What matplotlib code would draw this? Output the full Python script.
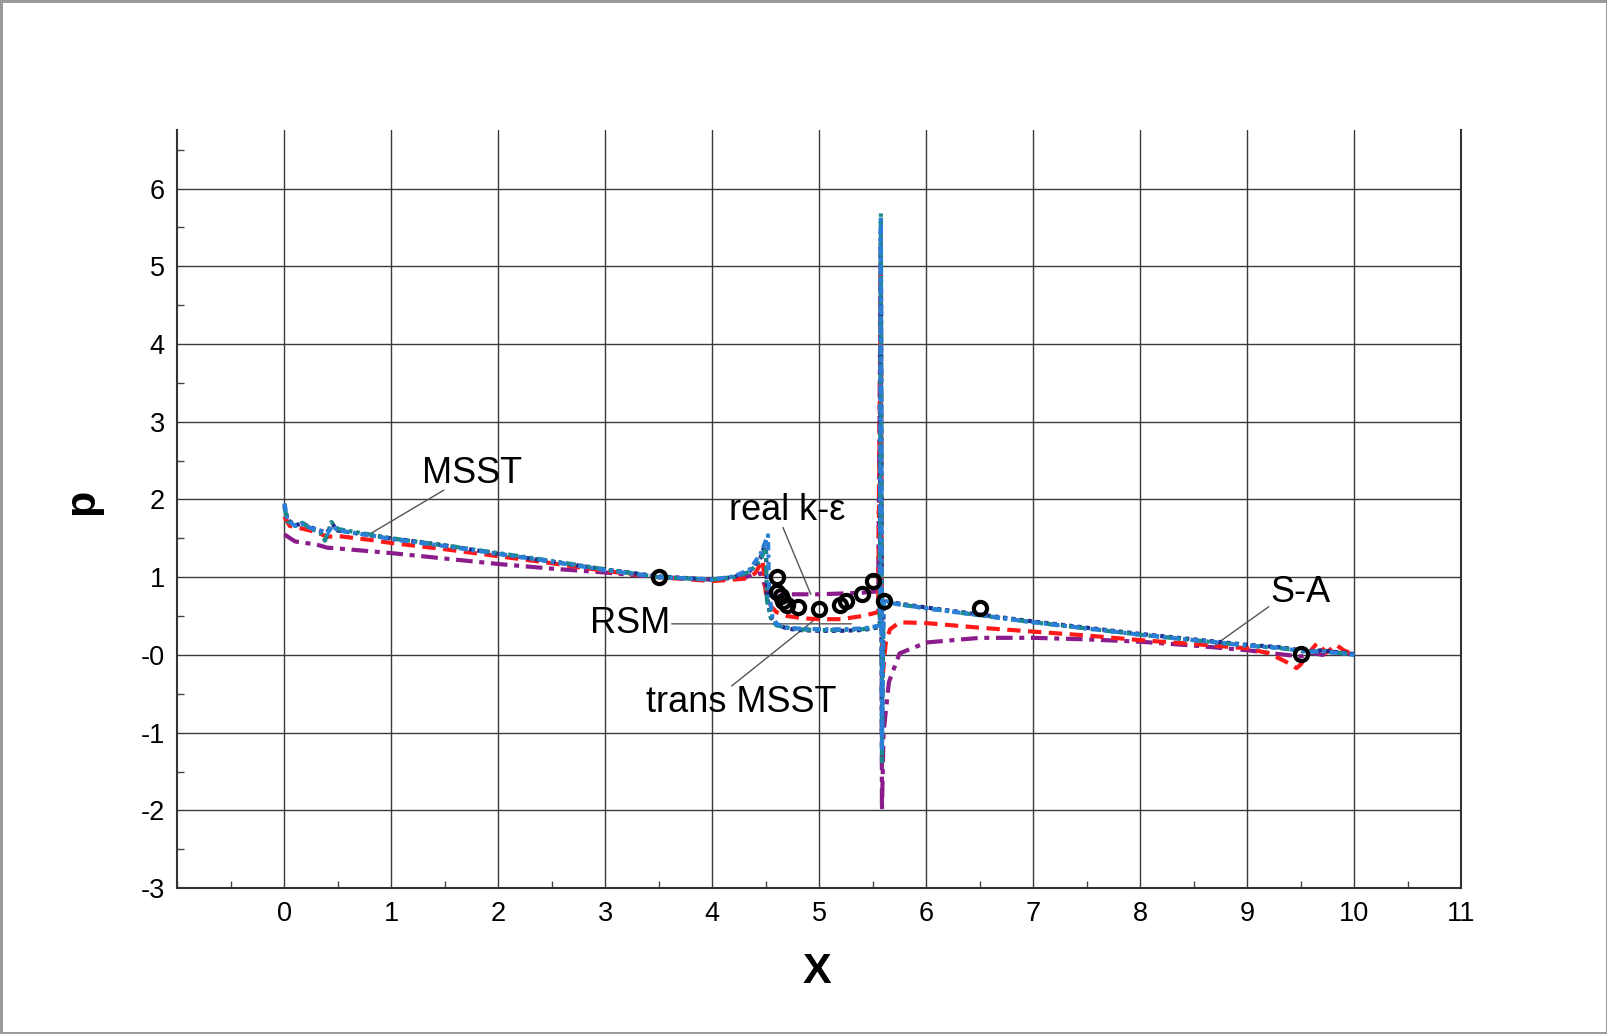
import matplotlib
matplotlib.use("Agg")
import matplotlib.pyplot as plt
from matplotlib.ticker import MultipleLocator, FixedLocator, FixedFormatter

plt.rcParams['font.family'] = ['Liberation Sans', 'DejaVu Sans']

# ---------------- data ----------------
sa_x = [0.0, 0.03, 0.1, 0.17, 0.25, 0.33, 0.4, 0.45, 0.5, 0.8, 1.0, 1.5, 2.0, 2.5, 3.0, 3.5, 4.0,
        4.2, 4.35, 4.45, 4.5, 4.51, 4.55, 4.6, 4.7, 4.8, 5.0, 5.2, 5.4, 5.5, 5.565, 5.575, 5.58,
        5.585, 5.6, 5.65, 5.7, 6.0, 6.5, 7.0, 7.5, 8.0, 8.5, 9.0, 9.3, 9.5, 9.6, 9.7, 9.8, 9.9, 10.0]
sa_y = [1.93, 1.74, 1.67, 1.69, 1.64, 1.6, 1.58, 1.68, 1.6, 1.54, 1.5, 1.41, 1.3, 1.2, 1.1, 1.01, 0.97,
        1.0, 1.08, 1.25, 1.45, 0.75, 0.48, 0.39, 0.34, 0.32, 0.31, 0.31, 0.32, 0.34, 0.36, 5.45, 2.0,
        -1.0, 0.72, 0.69, 0.67, 0.61, 0.52, 0.43, 0.35, 0.27, 0.2, 0.13, 0.1, 0.06, 0.05, 0.06, 0.04, 0.03, 0.01]

msst_x = [0.0, 0.03, 0.1, 0.17, 0.25, 0.33, 0.38, 0.44, 0.5, 0.8, 1.0, 1.5, 2.0, 2.5, 3.0, 3.5, 4.0,
          4.2, 4.35, 4.45, 4.5, 4.51, 4.55, 4.6, 4.7, 4.8, 5.0, 5.2, 5.4, 5.5, 5.565, 5.575, 5.58,
          5.585, 5.6, 5.65, 5.7, 6.0, 6.5, 7.0, 7.5, 8.0, 8.5, 9.0, 9.3, 9.5, 9.6, 9.7, 9.8, 9.9, 10.0]
msst_y = [1.9, 1.72, 1.66, 1.7, 1.62, 1.58, 1.47, 1.71, 1.62, 1.55, 1.5, 1.41, 1.31, 1.21, 1.1, 1.0, 0.97,
          1.0, 1.07, 1.22, 1.38, 0.7, 0.45, 0.38, 0.35, 0.33, 0.32, 0.32, 0.33, 0.35, 0.37, 5.68, 2.5,
          -1.4, 0.7, 0.68, 0.66, 0.6, 0.51, 0.42, 0.34, 0.26, 0.19, 0.12, 0.09, 0.05, 0.04, 0.05, 0.03, 0.02, 0.0]

tmsst_x = [0.0, 0.03, 0.1, 0.17, 0.25, 0.33, 0.4, 0.45, 0.5, 0.8, 1.0, 1.5, 2.0, 2.5, 3.0, 3.5, 4.0,
           4.2, 4.35, 4.45, 4.52, 4.53, 4.56, 4.6, 4.7, 4.8, 5.0, 5.2, 5.4, 5.5, 5.565, 5.575, 5.58,
           5.585, 5.6, 5.65, 5.7, 6.0, 6.5, 7.0, 7.5, 8.0, 8.5, 9.0, 9.3, 9.5, 9.6, 9.7, 9.8, 9.9, 10.0]
tmsst_y = [1.95, 1.73, 1.66, 1.68, 1.63, 1.6, 1.56, 1.66, 1.6, 1.54, 1.49, 1.4, 1.3, 1.2, 1.09, 1.0, 0.97,
           1.01, 1.1, 1.3, 1.54, 0.8, 0.5, 0.4, 0.35, 0.34, 0.33, 0.33, 0.34, 0.36, 0.38, 5.6, 2.2,
           -1.2, 0.71, 0.68, 0.66, 0.6, 0.51, 0.42, 0.34, 0.26, 0.19, 0.12, 0.09, 0.05, 0.04, 0.05, 0.03, 0.02, 0.0]

rsm_x = [0.0, 0.05, 0.15, 0.3, 0.4, 0.5, 0.8, 1.0, 1.5, 2.0, 2.5, 3.0, 3.5, 4.0, 4.3, 4.4, 4.47,
         4.5, 4.55, 4.6, 4.7, 4.85, 5.0, 5.2, 5.4, 5.55, 5.575, 5.58, 5.59, 5.62, 5.66, 5.75, 6.0, 6.5,
         7.0, 7.5, 8.0, 8.5, 9.0, 9.2, 9.35, 9.46, 9.5, 9.56, 9.65, 9.74, 9.83, 9.9, 10.0]
rsm_y = [1.78, 1.66, 1.63, 1.58, 1.52, 1.53, 1.48, 1.44, 1.36, 1.27, 1.18, 1.08, 1.0, 0.95, 0.98, 1.05, 1.22,
         0.8, 0.62, 0.55, 0.5, 0.47, 0.46, 0.46, 0.5, 0.55, 5.0, 1.5, -0.3, 0.15, 0.33, 0.42, 0.41, 0.35,
         0.3, 0.25, 0.19, 0.14, 0.085, 0.02, -0.08, -0.17, -0.12, 0.0, 0.15, 0.03, 0.13, 0.06, 0.0]

rke_x = [0.0, 0.1, 0.3, 0.4, 0.5, 1.0, 1.5, 2.0, 2.5, 3.0, 3.5, 4.0, 4.3, 4.45, 4.5, 4.55, 4.7,
         5.0, 5.2, 5.4, 5.55, 5.575, 5.58, 5.585, 5.6, 5.65, 5.75, 6.0, 6.5, 7.0, 7.5, 8.0,
         8.5, 9.0, 9.3, 9.5, 9.6, 9.7, 9.8, 10.0]
rke_y = [1.55, 1.46, 1.42, 1.38, 1.37, 1.31, 1.24, 1.17, 1.11, 1.06, 1.0, 0.97, 1.0, 1.05, 0.85, 0.79, 0.78,
         0.78, 0.79, 0.8, 0.82, 5.3, 1.0, -2.0, -1.0, -0.35, 0.02, 0.16, 0.22, 0.22, 0.2, 0.17,
         0.12, 0.06, 0.01, -0.02, 0.03, 0.0, 0.04, 0.01]

exp_x = [3.5, 4.6, 4.6, 4.64, 4.66, 4.7, 4.8, 5.0, 5.19, 5.25, 5.4, 5.5, 5.6, 6.5, 9.5]
exp_y = [1.0, 1.0, 0.81, 0.76, 0.7, 0.64, 0.62, 0.59, 0.64, 0.7, 0.78, 0.95, 0.69, 0.61, 0.01]

# annotations: label, text position, leader start, leader end
ann_labels = ['MSST', 'real k-ε', 'RSM', 'trans MSST', 'S-A']
ann_text = [(1.75, 2.33), (4.70, 1.86), (3.23, 0.40), (4.27, -0.61), (9.50, 0.80)]
ann_from = [(1.49, 2.12), (4.66, 1.64), (3.62, 0.40), (4.18, -0.40), (9.20, 0.62)]
ann_to = [(0.78, 1.54), (4.92, 0.78), (5.30, 0.40), (4.97, 0.47), (8.72, 0.15)]

xticks = list(range(0, 12))
yticks = [-3, -2, -1, 0, 1, 2, 3, 4, 5, 6]
ytick_labels = ['-3', '-2', '-1', '-0', '1', '2', '3', '4', '5', '6']

# ---------------- figure ----------------
fig = plt.figure(figsize=(16.08, 10.34), dpi=100)
fig.patch.set_edgecolor('#9a9a9a')
fig.patch.set_linewidth(2.5)
ax = fig.add_axes([0.1103, 0.1411, 0.7985, 0.7329])

lw = 3.0
ax.plot(rke_x, rke_y, color='#8b1c8b', lw=lw, ls=(0, (4, 1.6, 1.2, 1.6)), zorder=3)
ax.plot(rsm_x, rsm_y, color='#ff1a1a', lw=lw, ls=(0, (3.2, 1.8)), zorder=4)
ax.plot(sa_x, sa_y, color='#1f2a8f', lw=lw, ls=(0, (1.0, 1.0)), zorder=5)
ax.plot(msst_x, msst_y, color='#1a8a8a', lw=lw, ls=(0, (2.4, 1.0, 0.8, 1.0, 0.8, 1.0)), zorder=6)
ax.plot(tmsst_x, tmsst_y, color='#2b7fd6', lw=lw, ls=(0, (2.0, 1.0, 0.8, 1.0)), zorder=7)
ax.plot(exp_x, exp_y, ls='none', marker='o', ms=9.5, mfc='none', mec='black', mew=3.0, zorder=8)

for lab, tp, f, t in zip(ann_labels, ann_text, ann_from, ann_to):
    ax.annotate('', xy=t, xytext=f,
                arrowprops=dict(arrowstyle='-', color='#555555', lw=1.0, shrinkA=0, shrinkB=0))
    ax.text(tp[0], tp[1], lab, fontsize=26, ha='center', va='center', color='black', zorder=9)

ax.set_xlim(-1, 11)
ax.set_ylim(-3, 6.75)
ax.xaxis.set_major_locator(FixedLocator(xticks))
ax.yaxis.set_major_locator(FixedLocator(yticks))
ax.yaxis.set_major_formatter(FixedFormatter(ytick_labels))
ax.xaxis.set_minor_locator(MultipleLocator(0.5))
ax.yaxis.set_minor_locator(MultipleLocator(0.5))
ax.tick_params(which='major', direction='in', length=0, labelsize=19.5, pad=9, colors='black')
ax.tick_params(which='minor', direction='in', length=5, width=1, color='#444444')
ax.grid(True, which='major', color='#3a3a3a', lw=1.0)
ax.set_axisbelow(True)
for s in ['left', 'bottom', 'right']:
    ax.spines[s].set_color('#333333')
    ax.spines[s].set_linewidth(1.5)
ax.spines['top'].set_visible(False)

fig.text(0.508, 0.06, 'X', fontsize=31, fontweight='bold', ha='center', va='center')
fig.text(0.051, 0.515, 'p', fontsize=31, fontweight='bold', ha='center', va='center', rotation=90)

fig.savefig('out.png', dpi=100, edgecolor=fig.get_edgecolor(), facecolor='white')
